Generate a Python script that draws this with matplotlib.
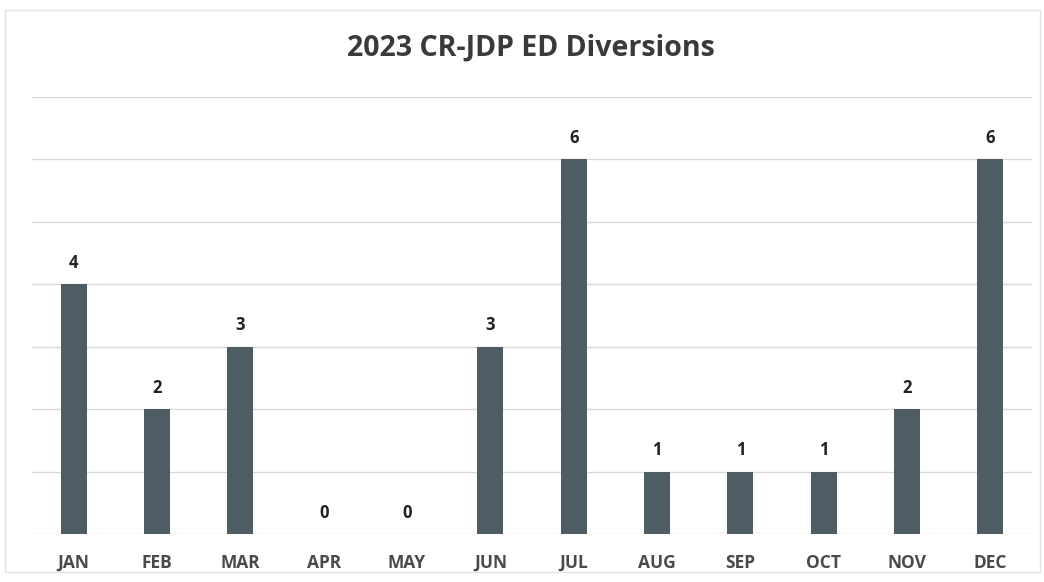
import matplotlib
matplotlib.use("Agg")
import matplotlib.pyplot as plt
from matplotlib.patches import Rectangle

months = ["JAN", "FEB", "MAR", "APR", "MAY", "JUN", "JUL", "AUG", "SEP", "OCT", "NOV", "DEC"]
diversions = [4, 2, 3, 0, 0, 3, 6, 1, 1, 1, 2, 6]
title = "2023 CR-JDP ED Diversions"

W, H = 1044, 582
fig = plt.figure(figsize=(W / 100, H / 100), dpi=100)
fig.patch.set_facecolor("white")

# faint outer chart frame
fig.patches.append(Rectangle((5 / W, 1 - 572 / H), 1035 / W, 562 / H, transform=fig.transFigure,
                             fill=False, edgecolor="#e2e2e2", linewidth=1.0))

ax = fig.add_axes([32 / W, (H - 534) / H, 1000 / W, 437 / H])
x = list(range(len(months)))
ax.bar(x, diversions, width=0.31, color="#4e5c64", zorder=3)
ax.set_xlim(-0.5, len(months) - 0.5)
ax.set_ylim(0, 7)
ax.set_yticks(range(0, 8))
ax.yaxis.grid(True, color="#d9d9d9", linewidth=1.0, zorder=0)
ax.tick_params(axis="y", left=False, labelleft=False)
ax.tick_params(axis="x", bottom=False, pad=11)
ax.set_xticks(x)
ax.set_xticklabels(months, fontsize=12.5, fontweight="bold", color="#4a4a4a", family="Open Sans")
for s in ax.spines.values():
    s.set_visible(False)

for xi, v in zip(x, diversions):
    ax.annotate(str(v), (xi, v), xytext=(0, 9), textcoords="offset points",
                ha="center", va="bottom", fontsize=12, fontweight="bold", color="#222222",
                family="Open Sans")

fig.text(531 / W, 1 - 48 / H, title, ha="center", va="center", fontsize=20.5,
         fontweight="bold", color="#3a3a3a", family="Open Sans")

fig.savefig("out.png", dpi=100)
